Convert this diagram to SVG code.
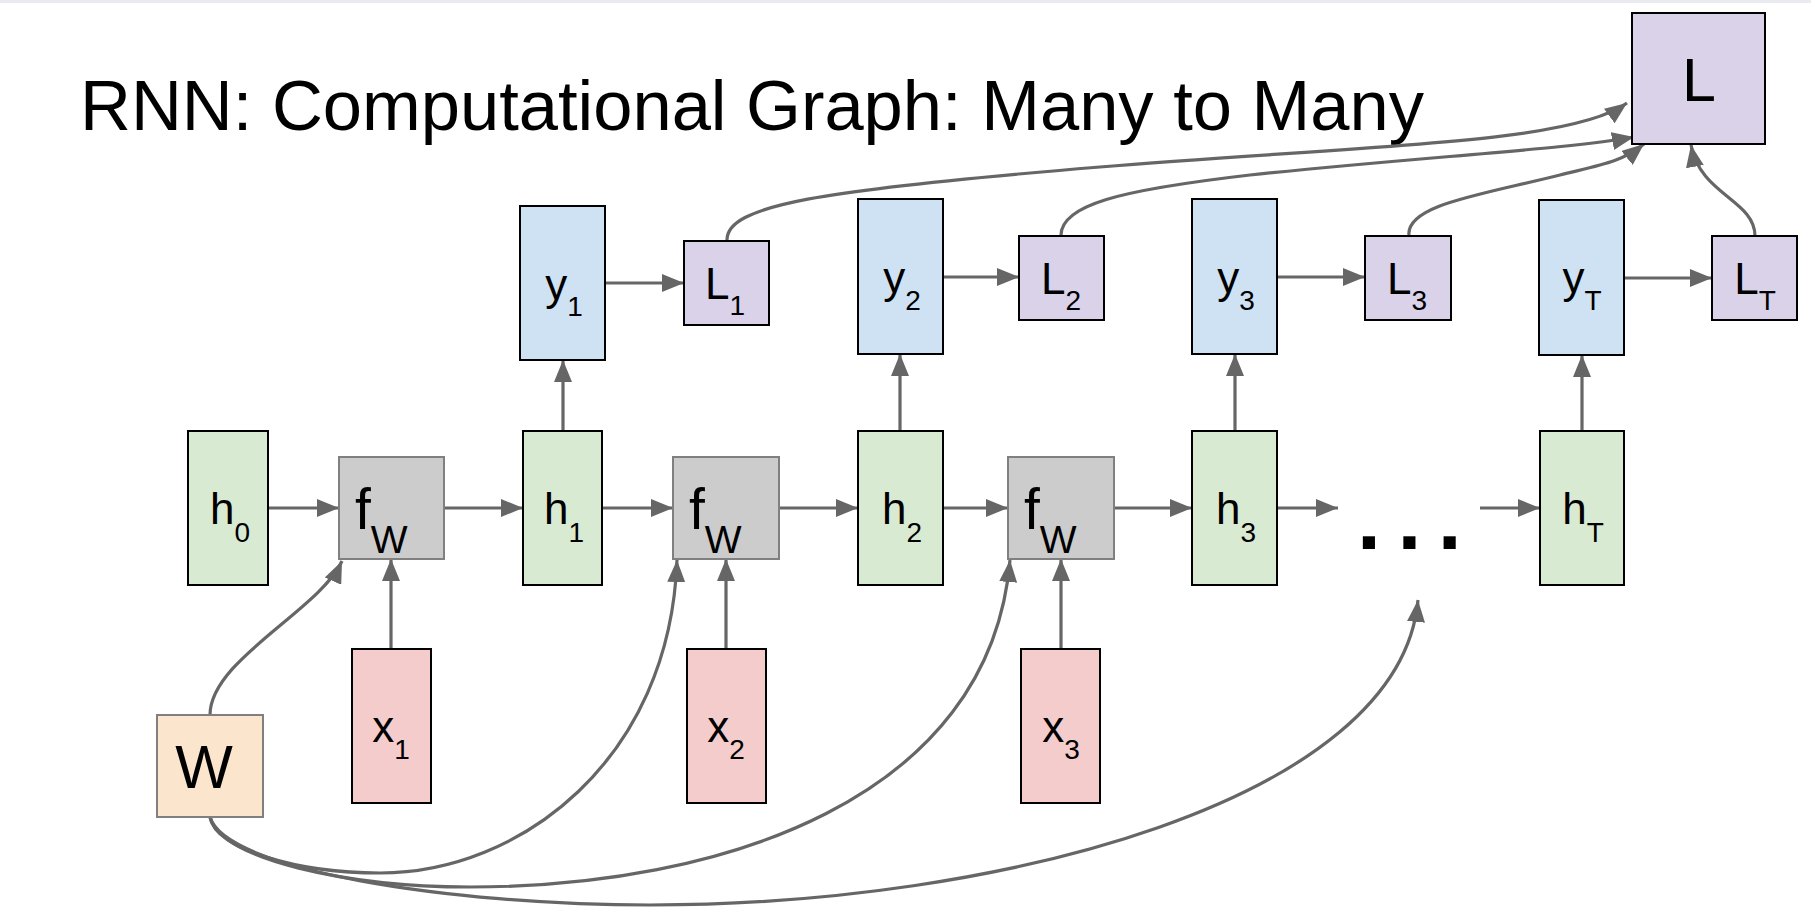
<svg xmlns="http://www.w3.org/2000/svg" width="1811" height="915" viewBox="0 0 1811 915">
<defs>
<marker id="ah" markerUnits="userSpaceOnUse" markerWidth="22" markerHeight="18" viewBox="0 0 22 18" refX="22" refY="9" orient="auto">
<path d="M0,0 L22,9 L0,18 z" fill="#666666"/>
</marker>
<style>
.lbl{font-family:"Liberation Sans",Arial,sans-serif;font-size:44px;fill:#000;text-anchor:middle}
.big{font-size:61px}
.sub{font-size:28px}
.fw{font-family:"Liberation Sans",Arial,sans-serif;font-size:57px;fill:#000}
.fwsub{font-size:39px}
.h{fill:#d9ead3;stroke:#000;stroke-width:2}
.y{fill:#cfe2f3;stroke:#000;stroke-width:2}
.l{fill:#d9d2e9;stroke:#000;stroke-width:2}
.x{fill:#f4cccc;stroke:#000;stroke-width:2}
.f{fill:#cccccc;stroke:#808080;stroke-width:2}
.w{fill:#fce5cd;stroke:#808080;stroke-width:2}
.c{fill:none;stroke:#666666;stroke-width:3.2;marker-end:url(#ah)}
</style>
</defs>
<rect x="0" y="0" width="1811" height="915" fill="#ffffff"/>
<rect x="0" y="0" width="1811" height="3" fill="#e9ebf0"/>
<text x="80" y="130" font-family="Liberation Sans, Arial, sans-serif" font-size="70.5" fill="#000">RNN: Computational Graph: Many to Many</text>

<g id="connectors">
<path class="c" d="M268,508 H339"/>
<path class="c" d="M444,508 H523"/>
<path class="c" d="M602,508 H673"/>
<path class="c" d="M779,508 H858"/>
<path class="c" d="M943,508 H1008"/>
<path class="c" d="M1114,508 H1192"/>
<path class="c" d="M1277,508 H1338"/>
<path class="c" d="M1480,508 H1540"/>
<path class="c" d="M563,431 V360"/>
<path class="c" d="M900,431 V354"/>
<path class="c" d="M1235,431 V354"/>
<path class="c" d="M1582,431 V355"/>
<path class="c" d="M391,649 V559"/>
<path class="c" d="M726,649 V559"/>
<path class="c" d="M1061,649 V559"/>
<path class="c" d="M605,283 H684"/>
<path class="c" d="M943,277 H1019"/>
<path class="c" d="M1277,277 H1365"/>
<path class="c" d="M1624,278 H1712"/>
<path class="c" d="M210,715 C210,660 320,610 342,561"/>
<path class="c" d="M210,817 C215,850 300,873 380,873 C520,873 670,760 677,560"/>
<path class="c" d="M210,817 C220,860 350,887 470,887 C720,887 990,800 1010,560"/>
<path class="c" d="M210,817 C225,870 450,905 650,905 C1000,905 1400,800 1418,600"/>
<path class="c" d="M727,241 C725,205 820,190 1100,167 C1350,146 1570,145 1627,103"/>
<path class="c" d="M1061,236 C1060,205 1120,190 1250,175 C1420,157 1570,149 1634,137"/>
<path class="c" d="M1409,236 C1405,205 1480,195 1560,175 C1600,165 1622,162 1644,144"/>
<path class="c" d="M1755,236 C1755,200 1700,195 1691,145"/>
</g>

<g id="L"><rect class="l" x="1632" y="13" width="133" height="131"/><text class="lbl big" x="1699" y="101">L</text></g>

<g id="h0"><rect class="h" x="188" y="431" width="80" height="154"/><text class="lbl" x="230" y="524">h<tspan class="sub" dy="18">0</tspan></text></g>
<g id="fw1"><rect class="f" x="339" y="457" width="105" height="102"/><text class="fw" x="355" y="529">f<tspan class="fwsub" dy="24">W</tspan></text></g>
<g id="h1"><rect class="h" x="523" y="431" width="79" height="154"/><text class="lbl" x="564" y="524">h<tspan class="sub" dy="18">1</tspan></text></g>
<g id="fw2"><rect class="f" x="673" y="457" width="106" height="102"/><text class="fw" x="689" y="529">f<tspan class="fwsub" dy="24">W</tspan></text></g>
<g id="h2"><rect class="h" x="858" y="431" width="85" height="154"/><text class="lbl" x="902" y="524">h<tspan class="sub" dy="18">2</tspan></text></g>
<g id="fw3"><rect class="f" x="1008" y="457" width="106" height="102"/><text class="fw" x="1024" y="529">f<tspan class="fwsub" dy="24">W</tspan></text></g>
<g id="h3"><rect class="h" x="1192" y="431" width="85" height="154"/><text class="lbl" x="1236" y="524">h<tspan class="sub" dy="18">3</tspan></text></g>
<g id="dots"><text x="1357" y="549" font-family="Liberation Sans, Arial, sans-serif" font-weight="bold" font-size="86" letter-spacing="16.5" fill="#000">...</text></g>
<g id="hT"><rect class="h" x="1540" y="431" width="84" height="154"/><text class="lbl" x="1583" y="524">h<tspan class="sub" dy="18">T</tspan></text></g>

<g id="y1"><rect class="y" x="520" y="206" width="85" height="154"/><text class="lbl" x="564" y="300">y<tspan class="sub" dy="16">1</tspan></text></g>
<g id="y2"><rect class="y" x="858" y="199" width="85" height="155"/><text class="lbl" x="902" y="293">y<tspan class="sub" dy="17">2</tspan></text></g>
<g id="y3"><rect class="y" x="1192" y="199" width="85" height="155"/><text class="lbl" x="1236" y="293">y<tspan class="sub" dy="17">3</tspan></text></g>
<g id="yT"><rect class="y" x="1539" y="200" width="85" height="155"/><text class="lbl" x="1582" y="293">y<tspan class="sub" dy="17">T</tspan></text></g>

<g id="L1"><rect class="l" x="684" y="241" width="85" height="84"/><text class="lbl" x="725" y="299">L<tspan class="sub" dy="16">1</tspan></text></g>
<g id="L2"><rect class="l" x="1019" y="236" width="85" height="84"/><text class="lbl" x="1061" y="294">L<tspan class="sub" dy="16">2</tspan></text></g>
<g id="L3"><rect class="l" x="1365" y="236" width="86" height="84"/><text class="lbl" x="1407" y="294">L<tspan class="sub" dy="16">3</tspan></text></g>
<g id="LT"><rect class="l" x="1712" y="236" width="85" height="84"/><text class="lbl" x="1755" y="294">L<tspan class="sub" dy="16">T</tspan></text></g>

<g id="x1"><rect class="x" x="352" y="649" width="79" height="154"/><text class="lbl" x="391" y="742">x<tspan class="sub" dy="17">1</tspan></text></g>
<g id="x2"><rect class="x" x="687" y="649" width="79" height="154"/><text class="lbl" x="726" y="742">x<tspan class="sub" dy="17">2</tspan></text></g>
<g id="x3"><rect class="x" x="1021" y="649" width="79" height="154"/><text class="lbl" x="1061" y="742">x<tspan class="sub" dy="17">3</tspan></text></g>

<g id="W"><rect class="w" x="157" y="715" width="106" height="102"/><text class="lbl big" x="204" y="788">W</text></g>
</svg>
